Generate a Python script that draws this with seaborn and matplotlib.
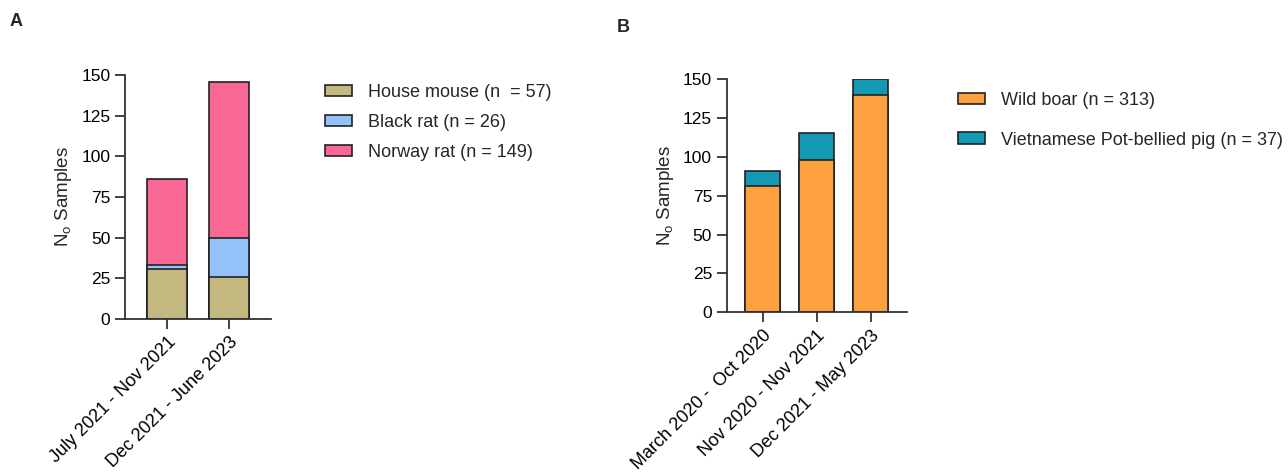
import pandas as pd
import numpy as np
import matplotlib
matplotlib.use('Agg')
import matplotlib.pyplot as plt
import seaborn as sns
from matplotlib.patches import Patch

# panel A - rodents
periods_a = ['July 2021 - Nov 2021', 'Dec 2021 - June 2023']
house_mouse = [31, 26]
black_rat = [2, 24]
norway_rat = [53, 96]
labels_a = ['House mouse (n  = 57)', 'Black rat (n = 26)', 'Norway rat (n = 149)']
colors_a = ['#c3b87f', '#93c1f9', '#f96895']

# panel B - pigs
periods_b = ['March 2020 -  Oct 2020', 'Nov 2020 - Nov 2021', 'Dec 2021 - May 2023']
wild_boar = [81, 98, 140]
pot_bellied = [10, 17, 10]
labels_b = ['Wild boar (n = 313)', 'Vietnamese Pot-bellied pig (n = 37)']
colors_b = ['#fda140', '#1399b4']

sns.set_style('ticks')
plt.rcParams['font.family'] = ['Liberation Sans', 'DejaVu Sans']
plt.rcParams['mathtext.default'] = 'regular'
plt.rcParams['axes.edgecolor'] = '#333333'
plt.rcParams['xtick.color'] = '#333333'
plt.rcParams['ytick.color'] = '#333333'
plt.rcParams['xtick.labelcolor'] = 'black'
plt.rcParams['ytick.labelcolor'] = 'black'

fig = plt.figure(figsize=(12.88, 4.75), dpi=100)
ax_a = fig.add_axes([125/1288, 1-319/475, (271-125)/1288, (319-75)/475])
ax_b = fig.add_axes([726.7/1288, 1-312.3/475, (906.7-726.7)/1288, (312.3-79)/475])


def stacked(ax, periods, layers, colors, width):
    # draw cumulative totals from the top layer down so each shows as a stack
    cum = np.cumsum(np.array(layers), axis=0)
    for i in range(len(layers) - 1, -1, -1):
        df = pd.DataFrame({'period': periods, 'value': cum[i]})
        sns.barplot(data=df, x='period', y='value', color=colors[i], width=width,
                    edgecolor='#222222', linewidth=1.2, saturation=1, ax=ax)


stacked(ax_a, periods_a, [house_mouse, black_rat, norway_rat], colors_a, 0.645)
stacked(ax_b, periods_b, [wild_boar, pot_bellied], colors_b, 0.64)

for ax, n in [(ax_a, 2), (ax_b, 3)]:
    pad = 0.677 if n == 2 else 0.667
    ax.set_ylim(0, 150)
    ax.set_yticks([0, 25, 50, 75, 100, 125, 150])
    ax.set_xlim(-pad, n - 1 + pad)
    ax.set_xlabel('')
    ax.set_ylabel(r'N$_o$ Samples', fontsize=13.5, labelpad=5)
    sns.despine(ax=ax)
    for s in ['left', 'bottom']:
        ax.spines[s].set_linewidth(1.3)
    ax.tick_params(axis='both', length=7, width=1.3)
    ax.tick_params(axis='y', labelsize=12.5)
    ax.tick_params(axis='x', labelsize=13)
    plt.setp(ax.get_xticklabels(), rotation=45, ha='right', rotation_mode='anchor')

handles_a = [Patch(facecolor=c, edgecolor='#222222', linewidth=1.2) for c in colors_a]
fig.legend(handles_a, labels_a, loc='upper left', bbox_to_anchor=(325/1288, 1-84/475),
           frameon=False, fontsize=13, handlelength=1.5, handleheight=0.6,
           handletextpad=0.9, labelspacing=0.72, borderpad=0, borderaxespad=0)

handles_b = [Patch(facecolor=c, edgecolor='#222222', linewidth=1.2) for c in colors_b]
fig.legend(handles_b, labels_b, loc='upper left', bbox_to_anchor=(958/1288, 1-92/475),
           frameon=False, fontsize=13, handlelength=1.5, handleheight=0.6,
           handletextpad=0.9, labelspacing=1.25, borderpad=0, borderaxespad=0)

fig.text(10/1288, 1-22/475, 'A', fontsize=13, fontweight='bold', va='center')
fig.text(617/1288, 1-28/475, 'B', fontsize=13, fontweight='bold', va='center')

fig.savefig('out.png', dpi=100)
